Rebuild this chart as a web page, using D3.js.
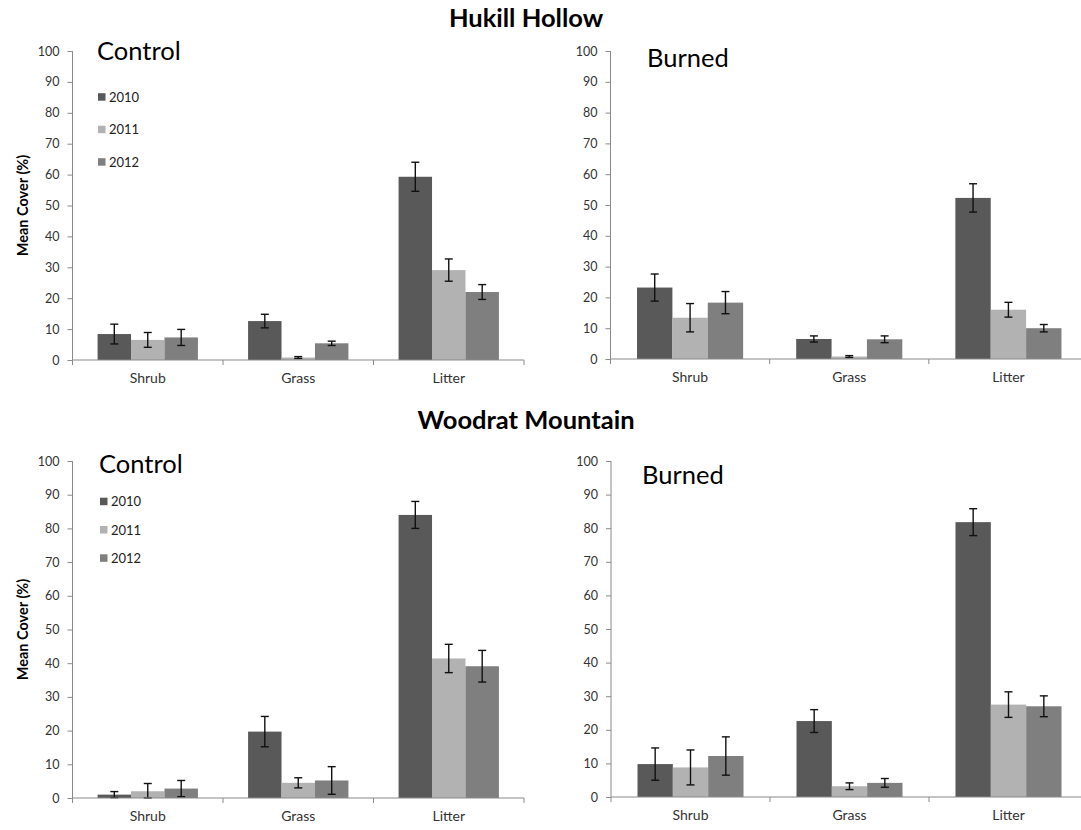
<!DOCTYPE html>
<html>
<head>
<meta charset="utf-8">
<script src="https://cdn.jsdelivr.net/npm/d3@7"></script>
<style>
  html, body { margin: 0; padding: 0; background: #fff; }
  svg { display: block; font-family: Lato, "Open Sans", sans-serif; }
</style>
</head>
<body>
<svg id="chart" width="1081" height="830"></svg>
<script>
// Cover classes and sampling years
const categories = ["Shrub", "Grass", "Litter"];
const years = ["2010", "2011", "2012"];
const yTicks = [0, 10, 20, 30, 40, 50, 60, 70, 80, 90, 100];
const siteTitles = ["Hukill Hollow", "Woodrat Mountain"];
const treatmentLabels = ["Control", "Burned", "Control", "Burned"];
const yLabel = "Mean Cover (%)";

// Mean cover (%), rows = cover class, columns = year
const hukillControlMean = [[8.4, 6.5, 7.3], [12.6, 0.8, 5.4], [59.3, 29.1, 22.0]];
const hukillControlErr  = [[3.2, 2.4, 2.6], [2.2, 0.3, 0.7], [4.7, 3.6, 2.4]];
const hukillBurnedMean  = [[23.2, 13.4, 18.3], [6.5, 0.8, 6.4], [52.3, 16.0, 10.0]];
const hukillBurnedErr   = [[4.4, 4.6, 3.6], [1.0, 0.3, 1.1], [4.6, 2.4, 1.2]];
const woodratControlMean = [[1.0, 2.0, 2.8], [19.7, 4.5, 5.2], [84.0, 41.4, 39.1]];
const woodratControlErr  = [[0.9, 2.3, 2.4], [4.5, 1.5, 4.1], [4.0, 4.2, 4.7]];
const woodratBurnedMean  = [[9.8, 8.8, 12.2], [22.6, 3.2, 4.2], [81.8, 27.5, 27.0]];
const woodratBurnedErr   = [[4.8, 5.2, 5.7], [3.4, 1.0, 1.3], [4.0, 3.8, 3.1]];

const yearColors = ["#595959", "#b2b2b2", "#7f7f7f"];

const svg = d3.select("#chart");

// Panel frames: horizontal extent of x axis, vertical extent of y axis (100 -> 0)
const panels = [
  { mean: hukillControlMean, err: hukillControlErr, x0: 72.5, x1: 524, yTop: 51, yBot: 360,
    label: treatmentLabels[0], labelX: 97, labelY: 60, legend: { x: 98, y: 97, step: 32.5 }, yTitle: true },
  { mean: hukillBurnedMean, err: hukillBurnedErr, x0: 610.5, x1: 1088, yTop: 51, yBot: 359,
    label: treatmentLabels[1], labelX: 647, labelY: 67 },
  { mean: woodratControlMean, err: woodratControlErr, x0: 72.5, x1: 524, yTop: 461, yBot: 798,
    label: treatmentLabels[2], labelX: 99, labelY: 473, legend: { x: 100, y: 501.5, step: 28.3 }, yTitle: true },
  { mean: woodratBurnedMean, err: woodratBurnedErr, x0: 611, x1: 1088, yTop: 461, yBot: 797,
    label: treatmentLabels[3], labelX: 642, labelY: 484 }
];

// Site headings
svg.append("text").attr("x", 526).attr("y", 27).attr("text-anchor", "middle")
  .attr("font-weight", "bold").attr("font-size", 25.5).attr("fill", "#000").text(siteTitles[0]);
svg.append("text").attr("x", 526).attr("y", 429).attr("text-anchor", "middle")
  .attr("font-weight", "bold").attr("font-size", 25.5).attr("fill", "#000").text(siteTitles[1]);

panels.forEach(p => {
  const g = svg.append("g");

  const x = d3.scaleBand().domain(categories).range([p.x0, p.x1]);
  const xYear = d3.scaleBand().domain(years).range([0, x.bandwidth()])
    .paddingInner(0).paddingOuter(0.75);
  const y = d3.scaleLinear().domain([0, 100]).range([p.yBot, p.yTop]);

  // bars
  const groups = g.selectAll("g.cat").data(categories).enter().append("g")
    .attr("transform", c => `translate(${x(c)},0)`);

  groups.each(function(c, ci) {
    const cg = d3.select(this);
    const rows = years.map((yr, yi) => ({ yr, yi, v: p.mean[ci][yi], e: p.err[ci][yi] }));
    cg.selectAll("rect").data(rows).enter().append("rect")
      .attr("x", d => xYear(d.yr))
      .attr("y", d => y(d.v))
      .attr("width", xYear.bandwidth())
      .attr("height", d => y(0) - y(d.v))
      .attr("fill", d => yearColors[d.yi]);

    // error bars
    const eb = cg.selectAll("g.err").data(rows).enter().append("g")
      .attr("stroke", "#111").attr("stroke-width", 1.4);
    eb.append("line")
      .attr("x1", d => xYear(d.yr) + xYear.bandwidth() / 2)
      .attr("x2", d => xYear(d.yr) + xYear.bandwidth() / 2)
      .attr("y1", d => y(d.v + d.e)).attr("y2", d => y(Math.max(0, d.v - d.e)));
    [1, -1].forEach(s => {
      eb.append("line")
        .attr("x1", d => xYear(d.yr) + xYear.bandwidth() / 2 - 4)
        .attr("x2", d => xYear(d.yr) + xYear.bandwidth() / 2 + 4)
        .attr("y1", d => y(Math.max(0, d.v + s * d.e)))
        .attr("y2", d => y(Math.max(0, d.v + s * d.e)));
    });
  });

  // y axis
  const yAxis = d3.axisLeft(y).tickValues(yTicks).tickSize(5).tickPadding(8);
  const ya = g.append("g").attr("transform", `translate(${p.x0},0)`).call(yAxis);
  ya.select(".domain").attr("stroke", "#8a8a8a").attr("d", `M0,${p.yTop}V${p.yBot}`);
  ya.selectAll(".tick line").attr("stroke", "#8a8a8a");
  ya.selectAll(".tick text").attr("fill", "#333").attr("font-size", 12.5)
    .attr("font-family", "Lato, sans-serif");

  // x axis with category separators
  const xAxis = d3.axisBottom(x).tickSize(0).tickPadding(13);
  const xa = g.append("g").attr("transform", `translate(0,${p.yBot})`).call(xAxis);
  xa.select(".domain").attr("stroke", "#8a8a8a").attr("d", `M${p.x0},0H${p.x1}`);
  xa.selectAll(".tick text").attr("fill", "#333").attr("font-size", 14)
    .attr("font-family", "Lato, sans-serif");
  const bounds = categories.map(c => x(c)).concat([p.x1]);
  xa.selectAll("line.sep").data(bounds).enter().append("line")
    .attr("x1", d => d).attr("x2", d => d).attr("y1", 0).attr("y2", 5)
    .attr("stroke", "#8a8a8a");

  // treatment label
  g.append("text").attr("x", p.labelX).attr("y", p.labelY)
    .attr("font-size", 25.5).attr("fill", "#000").text(p.label);

  // y title
  if (p.yTitle) {
    g.append("text")
      .attr("transform", `translate(28,${(p.yTop + p.yBot) / 2}) rotate(-90)`)
      .attr("text-anchor", "middle").attr("font-weight", "bold").attr("font-size", 14.5)
      .attr("fill", "#000").text(yLabel);
  }

  // legend
  if (p.legend) {
    const lg = g.selectAll("g.leg").data(years).enter().append("g")
      .attr("transform", (d, i) => `translate(${p.legend.x},${p.legend.y + i * p.legend.step})`);
    lg.append("rect").attr("x", 0).attr("y", -3.8).attr("width", 7.5).attr("height", 7.5)
      .attr("fill", (d, i) => yearColors[i]);
    lg.append("text").attr("x", 11).attr("y", 4.8).attr("font-size", 13)
      .attr("fill", "#222").text(d => d);
  }
});
</script>
</body>
</html>
